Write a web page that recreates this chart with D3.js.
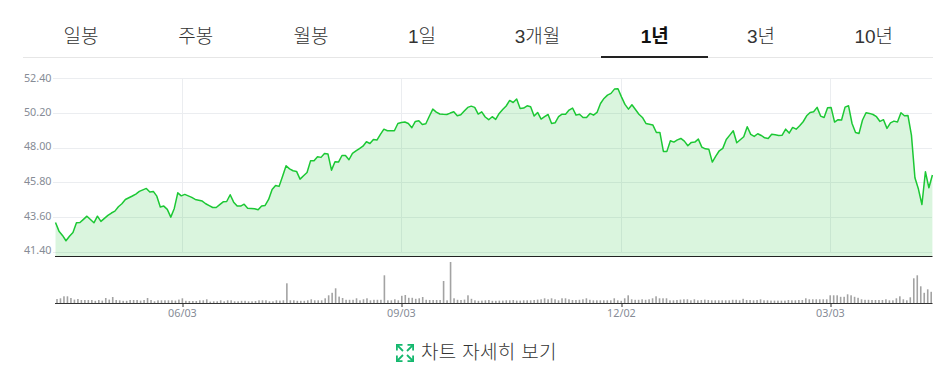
<!DOCTYPE html>
<html lang="ko"><head><meta charset="utf-8">
<script src="https://cdn.jsdelivr.net/npm/d3@7"></script>
<style>html,body{margin:0;padding:0;background:#fff}svg{display:block}
.tab{font-family:"Liberation Sans","Noto Sans CJK KR",sans-serif;font-size:19px;fill:#333;font-weight:300;text-anchor:middle}
.tab.on{font-weight:700;fill:#111}
.axis text{font-family:"Noto Sans",sans-serif;font-size:10.8px;fill:#868c96}
.axis path{display:none}
</style></head><body><div id="chart"></div>
<script>
const tabs=["일봉","주봉","월봉","1일","3개월","1년","3년","10년"];
const activeTab="1년";
const priceTicks=[52.40,50.20,48.00,45.80,43.60,41.40];
const dateLabels=["06/03","09/03","12/02","03/03"];
const dateDays=[36,99,162,222];
const footerLabel="차트 자세히 보기";
const prices=[
43.26,42.71,42.44,42.10,42.39,42.63,43.24,43.26,43.46,43.66,
43.45,43.24,43.66,43.33,43.52,43.71,43.86,43.98,44.26,44.45,
44.72,44.83,44.94,45.06,45.23,45.33,45.42,45.19,45.23,44.93,
44.24,44.30,44.09,43.60,44.15,45.14,44.95,45.04,44.95,44.85,
44.72,44.67,44.62,44.45,44.33,44.21,44.21,44.39,44.57,44.59,
45.02,44.55,44.30,44.30,44.42,44.17,44.15,44.13,44.07,44.30,
44.34,44.72,45.35,45.61,45.55,46.20,46.86,46.66,46.54,46.50,
46.01,46.22,46.43,47.17,47.17,47.43,47.39,47.64,47.60,46.58,
47.11,47.09,47.51,47.51,47.24,47.64,47.80,47.95,48.10,48.38,
48.27,48.53,48.49,48.85,49.18,49.08,49.08,49.08,49.54,49.60,
49.63,49.54,49.27,49.67,49.71,49.48,49.52,50.00,50.45,50.26,
50.14,50.12,50.11,50.20,50.28,50.03,50.09,50.33,50.56,50.64,
50.56,50.14,50.28,49.95,49.78,49.97,49.80,50.18,50.42,50.65,
51.00,50.87,51.09,50.49,50.52,50.66,50.60,50.01,50.24,49.82,
49.97,50.11,49.54,49.58,49.97,50.13,50.13,50.39,50.52,50.07,
50.13,49.92,49.92,50.18,50.07,50.24,50.81,51.13,51.34,51.45,
51.72,51.74,51.23,50.75,50.45,50.73,50.43,50.13,49.92,49.54,
49.49,49.44,48.97,48.97,47.77,47.77,48.44,48.36,48.50,48.59,
48.42,48.13,48.34,48.36,48.55,48.04,47.93,47.91,47.09,47.47,
47.81,47.96,48.53,48.80,49.08,48.32,48.51,48.70,49.33,48.85,
48.72,48.89,48.78,48.63,48.59,48.85,48.82,48.78,48.80,49.18,
48.93,49.29,49.18,49.40,49.65,50.03,50.24,50.28,50.56,50.01,
49.92,50.54,50.56,49.63,49.78,49.76,50.58,50.66,49.54,48.97,
48.91,49.76,50.22,50.18,50.11,49.97,49.67,49.78,49.23,49.58,
49.69,49.63,50.22,50.03,50.05,48.80,46.10,45.38,44.40,46.48,45.46,46.27];
const volumes=[
4.3,5,7,7,5.3,3.7,4.3,3.3,3.3,3.3,
3.3,2.5,3.3,2.7,5.3,3.7,6.3,3.3,3,2.5,
2.5,3.3,3.3,3.3,2.7,3.3,5.3,3.3,2,3,
3,3,3,3,2.7,3.7,5,2.5,2.3,2.3,
2.3,3,3,4,1.7,2,2,3,2,3,
3,2,2,2.5,2.5,2,2,2.3,3,3,
3,2,2,3,2.7,3,20,3,3,2.5,
2.5,2.5,3,4,3,3,3,5,8,10.5,
15,6.7,5.3,3.5,3.5,3.5,5,3,4,5,
3,3.5,3.5,3.5,28,3,3,4,3,7.5,
8.3,5.5,5.5,4.5,5,6.3,3.5,3.3,3.3,3.3,
3.3,22.3,3,41.3,5,3.5,3.3,3.7,8,4.5,
3,2.5,2.7,3,3.3,2.5,2.5,2.7,2.7,3,
3,3.3,2.7,2.7,3,3,3,3.3,3.7,4,
5,4,5,4,3,5,5,4,3.3,3.3,
3.5,4,5,3.5,3,3,3,3,3,3,
5,3,2.5,5,8,4,3.5,3.5,4,3.5,
4,5,7,5,5,5,3,3,3.3,3.7,
4,4,3,4,3,3.3,3.7,3.3,3,3,
3,3,3,3,3.5,3.5,3,4.5,3.3,3.3,
3,3.3,4,3,3,2.7,2.7,2.7,2.7,2.7,
3.3,3,3,3.3,3.3,5,4,4,4,4,
4,4,8,8,8,6.5,6.5,9,8,6.5,
5.5,4,3.5,3.5,3.3,3.3,3.3,3.3,4,3,
3,5,7,4,3,6,25,28,17,10.5,14,11.5];

const W=952,H=382;
const svg=d3.select("#chart").append("svg").attr("width",W).attr("height",H);
const last=prices.length-1;
const x=d3.scaleLinear().domain([0,last]).range([55.5,932.4]);
const xBar=d3.scaleLinear().domain([0,last]).range([57,931.2]);
const y=d3.scaleLinear().domain([41.4,52.4]).range([251.8,78.4]);
const yVol=d3.scaleLinear().domain([0,41.3]).range([303.3,262]);
const floorY=256;

// tabs
const tabX=d3.scaleOrdinal().domain(tabs).range([81,195.7,311,422,537.5,654.7,761,873.7]);
svg.selectAll("text.tab").data(tabs).join("text")
  .attr("class",d=>"tab"+(d===activeTab?" on":""))
  .attr("x",d=>tabX(d)).attr("y",43).text(d=>d);
svg.append("line").attr("x1",23).attr("x2",933).attr("y1",57.5).attr("y2",57.5).attr("stroke","#e6e6e6");
svg.append("rect").attr("x",601).attr("y",56).attr("width",107).attr("height",2).attr("fill","#222");

// y axis + horizontal grid
const yAxis=d3.axisLeft(y).tickValues(priceTicks).tickFormat(d3.format(".2f")).tickSize(0).tickPadding(3);
const gy=svg.append("g").attr("class","axis").attr("transform","translate(54.5,0)").call(yAxis);
gy.selectAll("text").attr("dy",(d,i)=>i===0?"0.32em":"0.2em");
svg.append("g").selectAll("line").data(priceTicks).join("line")
  .attr("x1",53).attr("x2",932).attr("y1",d=>Math.round(y(d))+.5).attr("y2",d=>Math.round(y(d))+.5)
  .attr("stroke","#ebedf0");
// vertical grid
svg.append("g").selectAll("line").data(dateDays).join("line")
  .attr("x1",d=>Math.floor(xBar(d))+.5).attr("x2",d=>Math.floor(xBar(d))+.5)
  .attr("y1",78.5).attr("y2",252).attr("stroke","#ebedf0");

// area + line
svg.append("path").datum(prices)
  .attr("d",d3.area().x((d,i)=>x(i)).y0(floorY).y1(d=>y(d)))
  .attr("fill","#24c33a").attr("fill-opacity",.17);
svg.append("path").datum(prices)
  .attr("d",d3.line().x((d,i)=>x(i)).y(d=>y(d)))
  .attr("fill","none").attr("stroke","#1cc834").attr("stroke-width",1.5).attr("stroke-linejoin","round");
svg.append("line").attr("x1",55).attr("x2",932.5).attr("y1",256.5).attr("y2",256.5).attr("stroke","#222");

// volume bars
svg.append("g").selectAll("rect").data(volumes).join("rect")
  .attr("x",(d,i)=>xBar(i)-.8).attr("width",1.6)
  .attr("y",d=>yVol(d)).attr("height",d=>yVol(0)-yVol(d)).attr("fill","#a3a3a3");
svg.append("line").attr("x1",55).attr("x2",932.5).attr("y1",303.5).attr("y2",303.5).attr("stroke","#333");

// date axis
const dateScale=d3.scaleOrdinal().domain(dateLabels).range(dateDays.map(d=>Math.floor(xBar(d))+.5));
const xAxis=d3.axisBottom(dateScale).tickSize(3).tickPadding(2);
const gx=svg.append("g").attr("class","axis").attr("transform","translate(0,304)").call(xAxis);
gx.selectAll("line").attr("stroke","#333");
gx.selectAll("text").attr("dy","0.71em").attr("dx",-0.6);

// footer
const icon=svg.append("g").attr("transform","translate(396,344)").attr("fill","none").attr("stroke","#14b86e").attr("stroke-width",1.8);
[[0,0,1,1],[18,0,-1,1],[0,18,1,-1],[18,18,-1,-1]].forEach(([a,b,sx,sy])=>{
  icon.append("path").attr("d",`M${a+sx*.9},${b+sy*6.5}V${b+sy*.9}H${a+sx*6.5}`);
  icon.append("path").attr("d",`M${a+sx*1.5},${b+sy*1.5}L${a+sx*7},${b+sy*7}`);
});
svg.append("text").attr("x",421).attr("y",358.5)
  .attr("font-family",'"Noto Sans CJK KR",sans-serif').attr("font-size",19).attr("font-weight",300)
  .attr("letter-spacing",.3).attr("fill","#333").text(footerLabel);
</script></body></html>
